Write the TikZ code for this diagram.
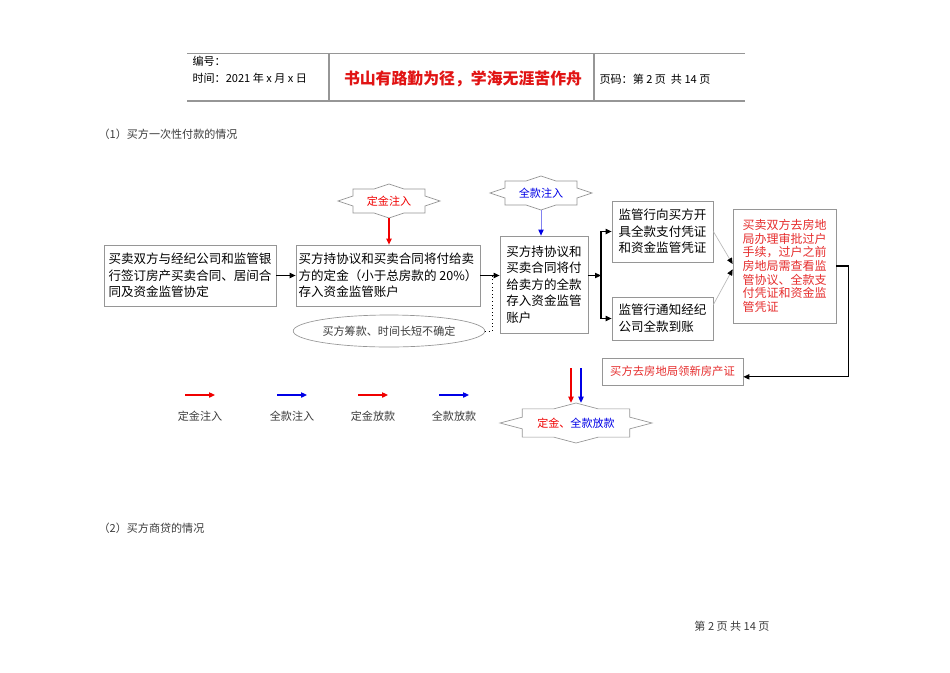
\documentclass[tikz,border=0pt]{standalone}
\usepackage{fontspec}
\setmainfont{Noto Sans CJK SC}
\usepackage{xcolor}
\usetikzlibrary{shapes.geometric, arrows.meta, positioning, calc}
\definecolor{linegray}{RGB}{150,150,150}
\definecolor{palegray}{RGB}{185,185,185}
\definecolor{hdred}{RGB}{225,20,20}
\definecolor{txtred}{RGB}{230,45,45}
\definecolor{arrred}{RGB}{240,0,0}
\definecolor{arrblue}{RGB}{0,0,230}
\definecolor{paleblue}{RGB}{130,130,240}
\definecolor{txtgray}{RGB}{60,60,60}
\tikzset{
    box/.style={rectangle, draw=linegray, line width=0.6pt, align=left, inner sep=2pt, font=\fontsize{9.4}{12.4}\selectfont},
    note/.style={inner sep=1pt, font=\fontsize{8.3}{10}\selectfont, text=txtgray},
    seallabel/.style={rectangle, inner sep=0pt, font=\fontsize{8.3}{10}\selectfont},
    sealline/.style={draw=linegray, line width=0.5pt},
    arrow/.style={line width=0.8pt, -{Triangle[length=4.5pt,width=4pt]}}
}
% 8-point seal around a label node: node, half width, half height
\newcommand\drawseal[3]{%
    \draw[sealline, shift={(#1.center)}] (0:#2 and #3)
        \foreach \k [evaluate=\k as \r using {1-0.235*mod(\k,2)}] in {1,...,15} { -- ({\k*22.5}:{\r*#2} and {\r*#3}) } -- cycle;}

\begin{document}
\begin{tikzpicture}[x=0.75pt, y=-0.75pt, >=stealth]
    \path[fill=white] (0,0) rectangle (950,672);
    \useasboundingbox (0,0) rectangle (950,672);

    % Header table
    \draw[linegray, line width=0.6pt] (187,53) -- (745,53);
    \draw[linegray, line width=1.2pt] (187,101) -- (745,101);
    \draw[linegray, line width=0.8pt] (329,53) -- (329,101);
    \draw[linegray, line width=0.8pt] (594,53) -- (594,101);
    \node (doc_no) [note, anchor=west, text=black] at (191,61) {编号：};
    \node (doc_time) [note, anchor=west, text=black] at (191,78) {时间：2021 年 x 月 x 日};
    \node (motto) [font=\fontsize{11.9}{14}\bfseries, text=hdred] at (463,79) {书山有路勤为径，学海无涯苦作舟};
    \node (page_no) [note, anchor=west, text=black] at (598,79) {页码：第 2 页\ \ 共 14 页};

    % Section titles
    \node (sec_one) [note, anchor=west] at (97,134) {（1）买方一次性付款的情况};
    \node (sec_two) [note, anchor=west] at (97,528) {（2）买方商贷的情况};

    % Main flow
    \node (sign_box) [box, minimum width=129pt, minimum height=45.75pt] at (190,275.5) {买卖双方与经纪公司和监管银\\行签订房产买卖合同、居间合\\同及资金监管协定};
    \node (deposit_box) [box, minimum width=136.5pt, minimum height=45.75pt] at (388,275.5) {买方持协议和买卖合同将付给卖\\方的定金（小于总房款的 20\%）\\存入资金监管账户};
    \node (full_box) [box, minimum width=66pt, minimum height=72.75pt] at (544,284.5) {买方持协议和\\买卖合同将付\\给卖方的全款\\存入资金监管\\账户};
    \node (voucher_box) [box, minimum width=75.75pt, minimum height=45.75pt] at (662.5,231.5) {监管行向买方开\\具全款支付凭证\\和资金监管凭证};
    \node (notify_box) [box, minimum width=75.75pt, minimum height=32.25pt] at (662.5,318.5) {监管行通知经纪\\公司全款到账};
    \node (transfer_box) [box, text=txtred, minimum width=77.25pt, minimum height=85.5pt, font=\fontsize{9}{10.2}\selectfont] at (784.5,266) {买卖双方去房地\\局办理审批过户\\手续，过户之前\\房地局需查看监\\管协议、全款支\\付凭证和资金监\\管凭证};
    \node (cert_box) [box, text=txtred, minimum width=105.75pt, minimum height=20.25pt, font=\fontsize{8.5}{10}\selectfont] at (672.5,371.5) {买方去房地局领新房产证};
    \node (fund_ell) [ellipse, draw=linegray, line width=0.5pt, minimum width=138.75pt, minimum height=24pt, note] at (389,331) {买方筹款、时间长短不确定};

    % Seals
    \node (deposit_in) [seallabel, text=arrred, minimum width=76.5pt, minimum height=25.5pt] at (389,201) {定金注入};
    \drawseal{deposit_in}{51}{17}
    \node (full_in) [seallabel, text=arrblue, minimum width=76.5pt, minimum height=25.5pt] at (541,193) {全款注入};
    \drawseal{full_in}{51}{17}
    \node (release) [seallabel, minimum width=114pt, minimum height=30pt] at (576,423) {\textcolor{arrred}{定金、}\textcolor{arrblue}{全款放款}};
    \drawseal{release}{76}{20}

    % Connectors
    \draw[arrow] (sign_box) -- (deposit_box);
    \draw[arrow] (deposit_box.east) -- (deposit_box.east -| full_box.west);
    \draw[arrow, arrred] (deposit_in.south) -- (deposit_in.south |- deposit_box.north);
    \draw[line width=0.6pt, paleblue, -{Triangle[length=4.5pt,width=4pt,color=arrblue]}] (full_in.south) -- (full_in.south |- full_box.north);
    \coordinate (dot_join) at (492,275.5);
    \draw[dotted, line width=0.7pt] (fund_ell.east) -| (dot_join);
    \coordinate (fork) at (601,275.5);
    \draw[arrow] (full_box.east |- fork) -- (fork);
    \draw[arrow] (fork) |- (voucher_box.west);
    \draw[arrow] (fork) |- (notify_box.west);
    \draw[line width=0.5pt, palegray, -{Triangle[length=4.5pt,width=4pt,color=black]}] (voucher_box.east) -- ([yshift=1.5pt]transfer_box.west);
    \draw[line width=0.5pt, palegray, -{Triangle[length=4.5pt,width=4pt,color=black]}] ([yshift=-6pt]notify_box.north east) -- ([yshift=-2.5pt]transfer_box.west);
    \draw[arrow] (transfer_box.east) -- ++(12,0) |- ([yshift=-4pt]cert_box.east);
    \coordinate (rel_red) at (571,368);
    \coordinate (rel_blue) at (581,368);
    \draw[arrow, arrred, line width=0.9pt] (rel_red) -- (rel_red |- release.north);
    \draw[arrow, arrblue, line width=0.9pt] (rel_blue) -- (rel_blue |- release.north);

    % Legend
    \foreach \x/\c/\t in {185/arrred/定金注入, 277/arrblue/全款注入, 358/arrred/定金放款, 439/arrblue/全款放款} {
        \coordinate (lg_s\x) at (\x,395);
        \coordinate (lg_e\x) at (\x+30,395);
        \draw[arrow, \c, line width=0.9pt] (lg_s\x) -- (lg_e\x);
        \node (lg_t\x) [note] at (\x+15,416) {\t};
    }

    % Footer
    \node (footer) [note] at (732,626) {第 2 页\ 共 14 页};
\end{tikzpicture}
\end{document}
